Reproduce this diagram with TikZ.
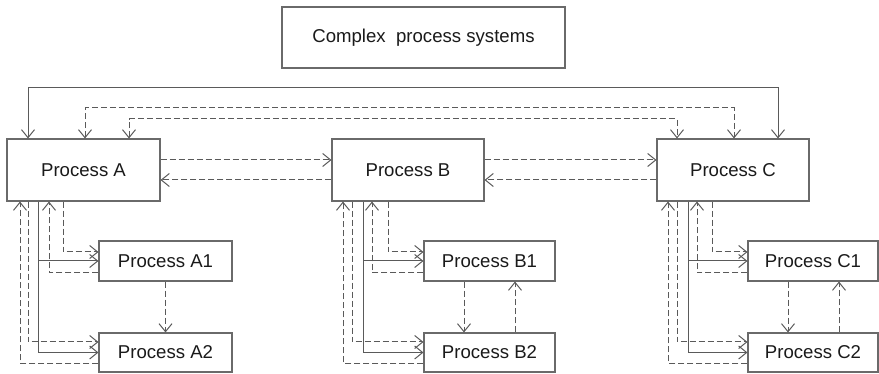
\documentclass[tikz,border=0pt]{standalone}
\usepackage{fontspec}
\setmainfont{Liberation Sans}
\usetikzlibrary{arrows.meta}
\definecolor{lc}{HTML}{5A5A5A}
\definecolor{bc}{HTML}{6A6A6A}
\definecolor{tc}{HTML}{1A1A1A}
\begin{document}
\begin{tikzpicture}[x=1pt,y=-1pt,
  box/.style={draw=bc,line width=1.1pt,fill=white,text=tc,inner sep=0pt,
    font=\fontsize{18.6}{22}\selectfont},
  sol/.style={draw=lc,line width=1pt},
  dsh/.style={draw=lc,line width=1pt,dash pattern=on 6pt off 3pt},
  >={Straight Barb[length=8pt,width=13pt,line width=1pt]}]
\useasboundingbox (0,0) rectangle (879,374);
% boxes
\node[box,minimum width=283pt,minimum height=61pt] (T) at (423.5,37.5) {Complex\ \ process systems};
\node[box,minimum width=153pt,minimum height=62pt] (A) at (83.5,170) {Process A};
\node[box,minimum width=152pt,minimum height=62pt] (B) at (408,170) {Process B};
\node[box,minimum width=152pt,minimum height=62pt] (C) at (733,170) {Process C};
\node[box,minimum width=133pt,minimum height=40pt] (A1) at (165.5,261) {Process A1};
\node[box,minimum width=133pt,minimum height=39pt] (A2) at (165.5,352.5) {Process A2};
\node[box,minimum width=131pt,minimum height=40pt] (B1) at (489.5,261) {Process B1};
\node[box,minimum width=131pt,minimum height=39pt] (B2) at (489.5,352.5) {Process B2};
\node[box,minimum width=130pt,minimum height=40pt] (C1) at (813,261) {Process C1};
\node[box,minimum width=130pt,minimum height=39pt] (C2) at (813,352.5) {Process C2};
% helper coordinates for the top connectors
\coordinate (t1a) at (28,88);  \coordinate (t1c) at (778,88);
\coordinate (t2a) at (85,108); \coordinate (t2c) at (734,108);
\coordinate (t3a) at (129,119);\coordinate (t3c) at (677,119);
\draw[sol,<->] (A.north -| t1a) -- (t1a) -- (t1c) -- (C.north -| t1c);
\draw[dsh,<->] (A.north -| t2a) -- (t2a) -- (t2c) -- (C.north -| t2c);
\draw[dsh,<->] (A.north -| t3a) -- (t3a) -- (t3c) -- (C.north -| t3c);
% horizontal between main processes (yshift is in page direction: + is up)
\draw[dsh,->] ([yshift=10pt]A.east) -- ([yshift=10pt]B.west);
\draw[dsh,->] ([yshift=-10pt]B.west) -- ([yshift=-10pt]A.east);
\draw[dsh,->] ([yshift=10pt]B.east) -- ([yshift=10pt]C.west);
\draw[dsh,->] ([yshift=-10pt]C.west) -- ([yshift=-10pt]B.east);
% sub-process links: group A
\coordinate (xa1) at (20,0); \coordinate (xa2) at (28,0); \coordinate (xa3) at (38,0);
\coordinate (xa4) at (49,0); \coordinate (xa5) at (63,0);
\draw[dsh,->] ([yshift=-10.5pt]A2.west) -| (A.south -| xa1);
\draw[dsh,->] (A.south -| xa2) |- ([yshift=10.5pt]A2.west);
\draw[sol,->] (A.south -| xa3) |- (A2.west);
\draw[sol,->] (A1.west -| xa3) -- (A1.west);
\draw[dsh,->] ([yshift=-12pt]A1.west) -| (A.south -| xa4);
\draw[dsh,->] (A.south -| xa5) |- ([yshift=9pt]A1.west);
\draw[dsh,->] (A1.south) -- (A2.north);
% group B
\coordinate (xb1) at (343,0); \coordinate (xb2) at (352,0); \coordinate (xb3) at (363,0);
\coordinate (xb4) at (372,0); \coordinate (xb5) at (388,0);
\draw[dsh,->] ([yshift=-10.5pt]B2.west) -| (B.south -| xb1);
\draw[dsh,->] (B.south -| xb2) |- ([yshift=10.5pt]B2.west);
\draw[sol,->] (B.south -| xb3) |- (B2.west);
\draw[sol,->] (B1.west -| xb3) -- (B1.west);
\draw[dsh,->] ([yshift=-12pt]B1.west) -| (B.south -| xb4);
\draw[dsh,->] (B.south -| xb5) |- ([yshift=9pt]B1.west);
\draw[dsh,->] ([xshift=-25.5pt]B1.south) -- ([xshift=-25.5pt]B2.north);
\draw[dsh,->] ([xshift=25.5pt]B2.north) -- ([xshift=25.5pt]B1.south);
% group C
\coordinate (xc1) at (668,0); \coordinate (xc2) at (677,0); \coordinate (xc3) at (688,0);
\coordinate (xc4) at (697,0); \coordinate (xc5) at (712,0);
\draw[dsh,->] ([yshift=-10.5pt]C2.west) -| (C.south -| xc1);
\draw[dsh,->] (C.south -| xc2) |- ([yshift=10.5pt]C2.west);
\draw[sol,->] (C.south -| xc3) |- (C2.west);
\draw[sol,->] (C1.west -| xc3) -- (C1.west);
\draw[dsh,->] ([yshift=-12pt]C1.west) -| (C.south -| xc4);
\draw[dsh,->] (C.south -| xc5) |- ([yshift=9pt]C1.west);
\draw[dsh,->] ([xshift=-25pt]C1.south) -- ([xshift=-25pt]C2.north);
\draw[dsh,->] ([xshift=26pt]C2.north) -- ([xshift=26pt]C1.south);
\end{tikzpicture}
\end{document}
